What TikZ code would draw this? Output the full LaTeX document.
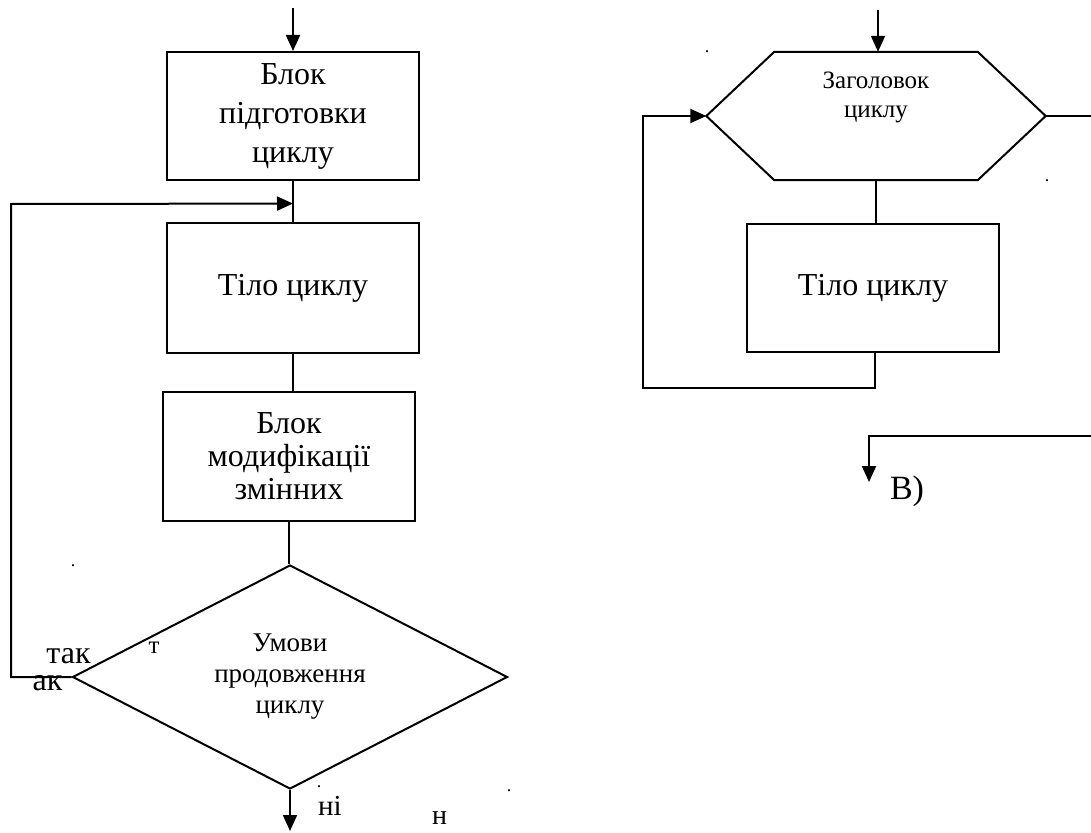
\documentclass[tikz,border=0pt]{standalone}
\usepackage{fontspec}
\setmainfont{Liberation Serif}
\usepackage{tikz}
\usetikzlibrary{arrows.meta}
\usetikzlibrary{calc}
\usetikzlibrary{shapes.geometric, positioning}
\tikzstyle{block} = [draw, line width=2pt,
	minimum width = 252pt,
	minimum height = 128pt,
	inner sep = 0pt, align = center]
\tikzstyle{arrow} = [-{Triangle[length=16pt,width=14pt]}, line width=2pt]
\tikzstyle{line} = [line width=2pt]
\tikzstyle{bigtxt} = [font=\fontsize{32}{39}\selectfont]
\tikzstyle{smalltxt} = [font=\fontsize{25}{30}\selectfont]
\tikzstyle{lbl} = [anchor=base, inner sep=0pt]
\tikzstyle{dotlbl} = [anchor=base, inner sep=0pt, font=\fontsize{18}{18}\selectfont]
\newcommand{\drawhead}[2]{\node[minimum width=203pt,
	minimum height=128pt,
	inner sep=0pt
	] (#1) at #2{};
	\coordinate (#1-w) at ($ (#1.west) + (-68,0) $);
	\coordinate (#1-e) at ($ (#1.east) + (68,0) $);
	\draw[line, line join=miter] (#1.north west) -- (#1.north east) -- (#1-e)
	-- (#1.south east) -- (#1.south west) -- (#1-w) -- cycle}

\begin{document}
\begin{tikzpicture}[x=1pt, y=-1pt]
			\useasboundingbox (0,0) rectangle (1091,832);
			
			% left scheme
			\node (prep) [block, bigtxt] at (293,116) {Блок\\підготовки\\циклу};
			\coordinate (inL) at (293,8);
			\draw [arrow] (inL) -- (prep);
			
			\node (body) [block, bigtxt, minimum height=130pt] at (293,288) {Тіло циклу};
			\node (modif) [block, font=\fontsize{32}{33}\selectfont, minimum height=129pt] at (289,456.5) {Блок\\модифікації\\змінних};
			\node (cond) [diamond, draw, line width=2pt, aspect=1.94,
				minimum width=435pt, minimum height=224pt, inner sep=0pt,
				align=center, font=\fontsize{27}{31}\selectfont] at (290,677) {Умови\\продовження\\циклу};
			
			\coordinate (join) at ($ (prep.south)!0.55!(body.north) $);
			\draw [line] (prep) -- (body);
			\draw [line] (body.south) -- (body.south |- modif.north);
			\draw [line] (modif.south) -- (modif.south |- cond.north);
			
			\coordinate (fbk) at (11,204);
			\draw [arrow] (cond.west) -| (fbk) -- (join);
			\coordinate (outL) at ($ (cond.south) + (0,41) $);
			\draw [arrow] (cond.south) -- (outL);
			
			\node (yes1) [lbl, bigtxt] at (68.5,663) {так};
			\node (yes2) [lbl, bigtxt] at (47.5,690) {ак};
			\node (yes3) [lbl, smalltxt] at (154,653) {т};
			\node (no1) [lbl, font=\fontsize{29}{29}\selectfont] at (330,815) {ні};
			\node (no2) [lbl, font=\fontsize{28}{28}\selectfont] at (439.5,824) {н};
			\node (dot1) [dotlbl] at (73,566) {.};
			\node (dot2) [dotlbl] at (319,787) {.};
			\node (dot3) [dotlbl] at (509,791) {.};
			
			% right scheme
			\drawhead{head}{(876,116)};
			\node (headtxt) [align=center, font=\fontsize{25}{29}\selectfont] at (876,97) {Заголовок\\циклу};
			\coordinate (inR) at (878,10);
			\draw [arrow] (inR) -- (head.north -| inR);
			
			\node (rbody) [block, bigtxt] at (873,288) {Тіло циклу};
			\draw [line] (head.south) -- (head.south |- rbody.north);
			
			\coordinate (rlow) at (643,388);
			\draw [arrow] ($ (rbody.south) + (2,0) $) |- (rlow) |- (head-w);
			\coordinate (rexit) at (1091,116);
			\draw [line] (head-e) -- (rexit);
			
			\node (dot4) [dotlbl] at (707,53) {.};
			\node (dot5) [dotlbl] at (1047,181) {.};
			
			\coordinate (bexit) at (1091,436);
			\coordinate (bend) at (869,482);
			\draw [arrow] (bexit) -| (bend);
			\node (variant) [font=\fontsize{34}{34}\selectfont] at (907,491) {В)};
		\end{tikzpicture}
\end{document}
